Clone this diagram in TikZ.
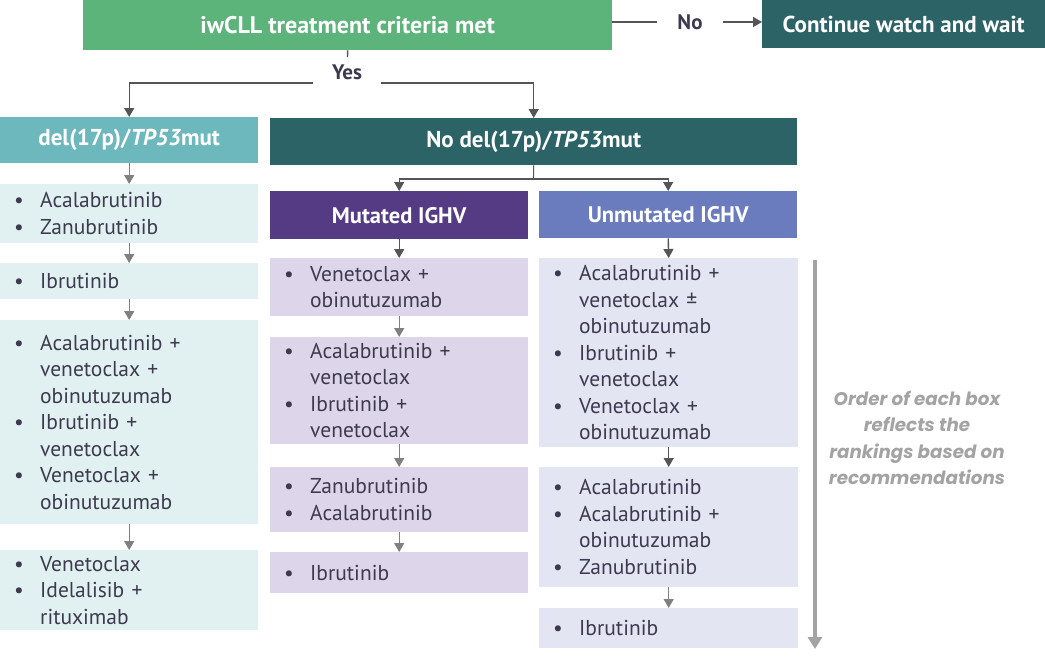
\documentclass[tikz,border=0pt]{standalone}
\usepackage{fontspec}
\setmainfont{PT Sans}
\newfontfamily\pop{Poppins}
\usetikzlibrary{arrows.meta}
\definecolor{cgreen}{HTML}{5CB47A}
\definecolor{dteal}{HTML}{2C6366}
\definecolor{lteal}{HTML}{6CB8BC}
\definecolor{cpurple}{HTML}{553A84}
\definecolor{cblue}{HTML}{6A7BBE}
\definecolor{fteal}{HTML}{E1F1F1}
\definecolor{fpurple}{HTML}{DDD5EA}
\definecolor{fblue}{HTML}{E3E5F2}
\definecolor{txt}{HTML}{3D3A4F}
\definecolor{adark}{HTML}{555555}
\definecolor{agray}{HTML}{808080}
\definecolor{notegray}{HTML}{A3A3A3}
\newcommand\bul{\makebox[26pt][l]{\textbullet}}
\newcommand\ind{\hspace*{26pt}}
\tikzset{
  hdr/.style={rectangle, inner sep=0pt, anchor=north west, text=white,
    font=\bfseries\fontsize{23}{26}\selectfont},
  lst/.style={rectangle, anchor=north west, inner xsep=14pt, inner ysep=0pt,
    align=left, text=txt, text width=230pt, font=\fontsize{21.5}{26.5}\selectfont},
  lbl/.style={inner ysep=4pt, inner xsep=20pt, text=txt, font=\bfseries\fontsize{21}{24}\selectfont},
  darr/.style={draw=adark, line width=1.4pt, -{Triangle[length=9pt,width=10pt]}},
  dline/.style={draw=adark, line width=1.4pt},
  garr/.style={draw=agray, line width=1.3pt, -{Triangle[length=9pt,width=10pt]}},
  note/.style={align=center, text=notegray, font=\pop\bfseries\itshape\fontsize{18.3}{26.5}\selectfont}
}
\begin{document}
\begin{tikzpicture}[x=1pt,y=-1pt]
\useasboundingbox (0,0) rectangle (1045,662);
% top row
\node[hdr, fill=cgreen, minimum width=529pt, minimum height=50pt, font=\bfseries\fontsize{24}{26}\selectfont] (crit) at (83,0) {iwCLL treatment criteria met};
\node[hdr, fill=dteal, minimum width=283pt, minimum height=48pt] (cont) at (762,0) {Continue watch and wait};
\node[lbl] (no) at (690,22) {No};
\draw[dline] (crit.east |- no.west) -- (no.west);
\draw[darr] (no.east) -- (no.east -| cont.west);
% yes branch
\node[lbl, inner xsep=22pt] (yes) at (347,72) {Yes};
\coordinate (ystem) at (347.5,57);
\coordinate (yl) at (313,83);
\coordinate (yr) at (381,83);
\draw[dline] (crit.south) -- (ystem);
% second row headers
\node[hdr, fill=lteal, minimum width=258pt, minimum height=46pt] (del) at (0,117) {del(17p)/\textit{TP53}mut};
\node[hdr, fill=dteal, minimum width=527pt, minimum height=47pt] (nodel) at (270,118) {No del(17p)/\textit{TP53}mut};
\draw[darr] (yl) -| (del.north);
\draw[darr] (yr) -| (nodel.north);
% IGHV headers
\node[hdr, fill=cpurple, minimum width=258pt, minimum height=48pt, font=\bfseries\fontsize{22.5}{24}\selectfont] (mut) at (270,191) {Mutated IGHV};
\node[hdr, fill=cblue, minimum width=258pt, minimum height=47pt, font=\bfseries\fontsize{22.5}{24}\selectfont] (unm) at (539,191) {Unmutated IGHV};
\coordinate (br) at (533.5,179);
\draw[draw=adark, line width=1.1pt] (nodel.south) -- (br);
\draw[darr, line width=1.1pt] (br) -| (mut.north);
\draw[darr, line width=1.1pt] (br) -| (unm.north);
% left column
\node[lst, fill=fteal, minimum height=59pt] (l1) at (0,184) {\bul Acalabrutinib\\\bul Zanubrutinib};
\node[lst, fill=fteal, minimum height=36pt] (l2) at (0,263) {\bul Ibrutinib};
\node[lst, fill=fteal, minimum height=204pt] (l3) at (0,320) {\bul Acalabrutinib +\\\ind venetoclax +\\\ind obinutuzumab\\\bul Ibrutinib +\\\ind venetoclax\\\bul Venetoclax +\\\ind obinutuzumab};
\node[lst, fill=fteal, minimum height=80pt] (l4) at (0,550) {\bul Venetoclax\\\bul Idelalisib +\\\ind rituximab};
\draw[garr] (del.south) -- (l1.north);
\draw[garr] (l1.south) -- (l2.north);
\draw[garr] (l2.south) -- (l3.north);
\draw[garr] (l3.south) -- (l4.north);
% mutated column
\node[lst, fill=fpurple, minimum height=58pt] (m1) at (270,258) {\bul Venetoclax +\\\ind obinutuzumab};
\node[lst, fill=fpurple, minimum height=107pt] (m2) at (270,337) {\bul Acalabrutinib +\\\ind venetoclax\\\bul Ibrutinib +\\\ind venetoclax};
\node[lst, fill=fpurple, minimum height=65pt] (m3) at (270,467) {\bul Zanubrutinib\\\bul Acalabrutinib};
\node[lst, fill=fpurple, minimum height=41pt] (m4) at (270,552) {\bul Ibrutinib};
\draw[darr] (mut.south) -- (m1.north);
\draw[garr] (m1.south) -- (m2.north);
\draw[garr] (m2.south) -- (m3.north);
\draw[garr] (m3.south) -- (m4.north);
% unmutated column
\node[lst, fill=fblue, minimum height=189pt, text width=231pt] (u1) at (539,258) {\bul Acalabrutinib +\\\ind venetoclax ±\\\ind obinutuzumab\\\bul Ibrutinib +\\\ind venetoclax\\\bul Venetoclax +\\\ind obinutuzumab};
\node[lst, fill=fblue, minimum height=120pt, text width=231pt] (u2) at (539,467) {\bul Acalabrutinib\\\bul Acalabrutinib +\\\ind obinutuzumab\\\bul Zanubrutinib};
\node[lst, fill=fblue, minimum height=40pt, text width=231pt] (u3) at (539,608) {\bul Ibrutinib};
\draw[darr] (unm.south) -- (u1.north);
\draw[darr] (u1.south) -- (u2.north);
\draw[garr] (u2.south) -- (u3.north);
% ranking arrow and note
\coordinate (rtop) at (815,260);
\coordinate (rbot) at (815,649);
\draw[draw=notegray, line width=4pt, -{Triangle[length=12pt,width=14pt]}] (rtop) -- (rbot);
\node[note] (note) at (917,438) {Order of each box\\reflects the\\rankings based on\\recommendations};
\end{tikzpicture}
\end{document}
